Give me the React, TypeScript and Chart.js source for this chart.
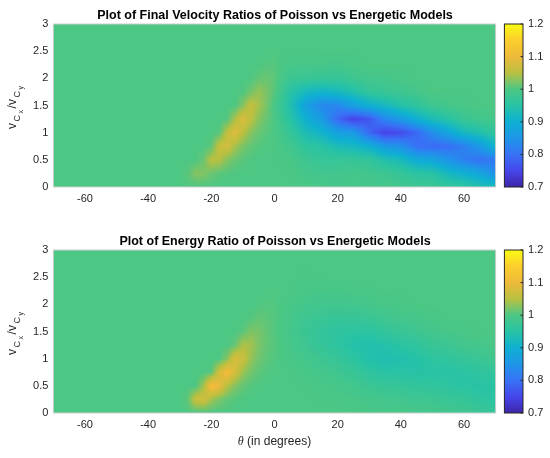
import React, { useEffect, useRef } from "react";
import { Chart, registerables } from "chart.js";

Chart.register(...registerables);

// ---------- data ----------
// theta sample nodes (degrees) and v-ratio sample nodes
const THETA_NODES = [
  -70, -65, -60, -55, -50, -45, -40, -35,
  -32.5, -30, -27.5, -25, -22.5, -20, -17.5, -15, -12.5, -10, -7.5, -5, -2.5, 0,
  5, 10, 15, 20, 25, 30, 35, 40, 45, 50, 55, 60, 65, 70,
];
const V_NODES = [0, 0.25, 0.5, 0.75, 1, 1.25, 1.5, 1.75, 2, 2.25, 2.5, 2.75, 3];

// rows = V_NODES, columns = THETA_NODES
const VELOCITY_RATIO = [
  [1, 1, 1, 1, 1, 1, 1, 1, /**/ 1, 1, 1.002, 1, 1, 1, 1, 1, 1, 1, 1, 1, 1, 1, /**/ 1, 0.997, 0.995, 0.99, 0.99, 0.99, 0.99, 0.985, 0.98, 0.98, 0.965, 0.96, 0.94, 0.93],
  [1, 1, 1, 1, 1, 1, 1, 1, /**/ 1, 1, 1.006, 1.026, 1.025, 1.014, 1.007, 1.003, 1.001, 1, 1, 1, 1, 1, /**/ 1, 0.99, 0.985, 0.985, 0.99, 0.985, 0.98, 0.97, 0.955, 0.95, 0.92, 0.9, 0.88, 0.84],
  [1, 1, 1, 1, 1, 1, 1, 1, /**/ 1, 1, 1, 1, 1.014, 1.053, 1.049, 1.026, 1.013, 1.006, 1.002, 1, 1, 1, /**/ 0.995, 0.98, 0.97, 0.97, 0.97, 0.965, 0.94, 0.925, 0.89, 0.88, 0.85, 0.82, 0.8, 0.81],
  [1, 1, 1, 1, 1, 1, 1, 1, /**/ 1, 1, 1, 1, 1, 1.008, 1.063, 1.072, 1.041, 1.021, 1.01, 1.004, 1.001, 1, /**/ 0.985, 0.96, 0.95, 0.93, 0.92, 0.9, 0.86, 0.845, 0.8, 0.79, 0.795, 0.82, 0.86, 0.91],
  [1, 1, 1, 1, 1, 1, 1, 1, /**/ 1, 1, 1, 1, 1, 1, 1.005, 1.057, 1.086, 1.053, 1.027, 1.013, 1.005, 1, /**/ 0.97, 0.93, 0.91, 0.87, 0.86, 0.79, 0.745, 0.755, 0.79, 0.84, 0.88, 0.92, 0.94, 0.965],
  [1, 1, 1, 1, 1, 1, 1, 1, /**/ 1, 1, 1, 1, 1, 1, 1, 1.003, 1.044, 1.082, 1.054, 1.027, 1.012, 1, /**/ 0.95, 0.9, 0.86, 0.79, 0.745, 0.77, 0.83, 0.86, 0.9, 0.93, 0.95, 0.975, 0.985, 0.99],
  [1, 1, 1, 1, 1, 1, 1, 1, /**/ 1, 1, 1, 1, 1, 1, 1, 1, 1, 1.026, 1.06, 1.041, 1.02, 0.995, /**/ 0.94, 0.87, 0.83, 0.83, 0.87, 0.9, 0.92, 0.945, 0.96, 0.98, 0.99, 0.995, 1, 1],
  [1, 1, 1, 1, 1, 1, 1, 1, /**/ 1, 1, 1, 1, 1, 1, 1, 1, 1, 1.001, 1.018, 1.034, 1.022, 1.005, /**/ 0.95, 0.92, 0.91, 0.92, 0.94, 0.965, 0.975, 0.98, 0.99, 1, 1, 1, 1, 1],
  [1, 1, 1, 1, 1, 1, 1, 1, /**/ 1, 1, 1, 1, 1, 1, 1, 1, 1, 1, 1.001, 1.01, 1.014, 1.008, /**/ 0.978, 0.975, 0.97, 0.97, 0.98, 0.99, 0.99, 0.995, 1, 1, 1, 1, 1, 1],
  [1, 1, 1, 1, 1, 1, 1, 1, /**/ 1, 1, 1, 1, 1, 1, 1, 1, 1, 1, 1, 1, 1.004, 1.004, /**/ 0.993, 0.993, 0.993, 0.99, 0.995, 1, 1, 1, 1, 1, 1, 1, 1, 1],
  [1, 1, 1, 1, 1, 1, 1, 1, /**/ 1, 1, 1, 1, 1, 1, 1, 1, 1, 1, 1, 1, 1, 1, /**/ 1, 1, 1, 1, 1, 1, 1, 1, 1, 1, 1, 1, 1, 1],
  [1, 1, 1, 1, 1, 1, 1, 1, /**/ 1, 1, 1, 1, 1, 1, 1, 1, 1, 1, 1, 1, 1, 1, /**/ 1, 1, 1, 1, 1, 1, 1, 1, 1, 1, 1, 1, 1, 1],
  [1, 1, 1, 1, 1, 1, 1, 1, /**/ 1, 1, 1, 1, 1, 1, 1, 1, 1, 1, 1, 1, 1, 1, /**/ 1, 1, 1, 1, 1, 1, 1, 1, 1, 1, 1, 1, 1, 1],
];

const ENERGY_RATIO = [
  [1, 1, 1, 1, 1, 1, 1, 1, /**/ 1, 1, 1.002, 1, 1, 1, 1, 1, 1, 1, 1, 1, 1, 1, /**/ 1, 1, 1, 1, 1, 0.997, 0.995, 0.995, 0.992, 0.991, 0.986, 0.983, 0.975, 0.97],
  [1, 1, 1, 1, 1, 1, 1, 1, /**/ 1, 1, 1.008, 1.065, 1.072, 1.04, 1.021, 1.01, 1.004, 1.001, 1, 1, 1, 1, /**/ 1, 1, 0.998, 0.997, 0.995, 0.99, 0.986, 0.985, 0.98, 0.979, 0.972, 0.97, 0.96, 0.955],
  [1, 1, 1, 1, 1, 1, 1, 1, /**/ 1, 1, 1, 1, 1.038, 1.118, 1.096, 1.05, 1.025, 1.011, 1.004, 1.001, 1, 1, /**/ 1, 0.998, 0.995, 0.992, 0.986, 0.977, 0.971, 0.969, 0.964, 0.963, 0.958, 0.953, 0.95, 0.951],
  [1, 1, 1, 1, 1, 1, 1, 1, /**/ 1, 1, 1, 1, 1, 1.006, 1.072, 1.114, 1.072, 1.036, 1.018, 1.008, 1.003, 1, /**/ 1, 0.994, 0.988, 0.982, 0.972, 0.96, 0.951, 0.95, 0.948, 0.95, 0.95, 0.953, 0.96, 0.966],
  [1, 1, 1, 1, 1, 1, 1, 1, /**/ 1, 1, 1, 1, 1, 1, 1, 1.026, 1.08, 1.065, 1.034, 1.017, 1.008, 1.003, /**/ 0.995, 0.988, 0.979, 0.97, 0.956, 0.942, 0.936, 0.94, 0.947, 0.957, 0.963, 0.969, 0.976, 0.985],
  [1, 1, 1, 1, 1, 1, 1, 1, /**/ 1, 1, 1, 1, 1, 1, 1, 1, 1.012, 1.045, 1.041, 1.022, 1.011, 1.005, /**/ 0.992, 0.98, 0.968, 0.957, 0.945, 0.94, 0.945, 0.953, 0.96, 0.973, 0.978, 0.986, 0.99, 0.995],
  [1, 1, 1, 1, 1, 1, 1, 1, /**/ 1, 1, 1, 1, 1, 1, 1, 1, 1, 1.006, 1.023, 1.02, 1.011, 1.003, /**/ 0.99, 0.975, 0.966, 0.959, 0.957, 0.955, 0.965, 0.973, 0.98, 0.988, 0.992, 0.996, 1, 1],
  [1, 1, 1, 1, 1, 1, 1, 1, /**/ 1, 1, 1, 1, 1, 1, 1, 1, 1, 1, 1.003, 1.01, 1.008, 1.004, /**/ 0.992, 0.98, 0.975, 0.97, 0.972, 0.975, 0.983, 0.988, 0.99, 0.996, 1, 1, 1, 1],
  [1, 1, 1, 1, 1, 1, 1, 1, /**/ 1, 1, 1, 1, 1, 1, 1, 1, 1, 1, 1, 1.001, 1.004, 1.003, /**/ 0.995, 0.988, 0.985, 0.984, 0.986, 0.99, 0.994, 0.997, 1, 1, 1, 1, 1, 1],
  [1, 1, 1, 1, 1, 1, 1, 1, /**/ 1, 1, 1, 1, 1, 1, 1, 1, 1, 1, 1, 1, 1, 1, /**/ 1, 0.994, 0.993, 0.994, 0.995, 0.998, 1, 1, 1, 1, 1, 1, 1, 1],
  [1, 1, 1, 1, 1, 1, 1, 1, /**/ 1, 1, 1, 1, 1, 1, 1, 1, 1, 1, 1, 1, 1, 1, /**/ 1, 0.998, 1, 1, 1, 1, 1, 1, 1, 1, 1, 1, 1, 1],
  [1, 1, 1, 1, 1, 1, 1, 1, /**/ 1, 1, 1, 1, 1, 1, 1, 1, 1, 1, 1, 1, 1, 1, /**/ 1, 1, 1, 1, 1, 1, 1, 1, 1, 1, 1, 1, 1, 1],
  [1, 1, 1, 1, 1, 1, 1, 1, /**/ 1, 1, 1, 1, 1, 1, 1, 1, 1, 1, 1, 1, 1, 1, /**/ 1, 1, 1, 1, 1, 1, 1, 1, 1, 1, 1, 1, 1, 1],
];

const X_TICKS = [-60, -40, -20, 0, 20, 40, 60];
const Y_TICKS = [0, 0.5, 1, 1.5, 2, 2.5, 3];
const CB_TICKS = [0.7, 0.8, 0.9, 1, 1.1, 1.2];
const TITLE_TOP = "Plot of Final Velocity Ratios of Poisson vs Energetic Models";
const TITLE_BOTTOM = "Plot of Energy Ratio of Poisson vs Energetic Models";

// ---------- styling ----------
const FONT = "'Liberation Sans', Arial, Helvetica, sans-serif";
const TEXT_COLOR = "#262626";
const C_MIN = 0.7;
const C_MAX = 1.2;
const CMAP_STOPS: number[][] = [
  [0.0, 62, 38, 168],
  [0.1, 70, 70, 234],
  [0.2, 56, 114, 246],
  [0.3, 30, 150, 232],
  [0.4, 15, 176, 210],
  [0.5, 40, 195, 165],
  [0.6, 76, 199, 132],
  [0.7, 185, 192, 65],
  [0.8, 238, 186, 58],
  [0.9, 252, 206, 45],
  [1.0, 249, 251, 20],
];

function cmap(val: number): [number, number, number] {
  let t = (val - C_MIN) / (C_MAX - C_MIN);
  t = Math.max(0, Math.min(1, t));
  for (let k = 0; k < CMAP_STOPS.length - 1; k++) {
    const a = CMAP_STOPS[k];
    const b = CMAP_STOPS[k + 1];
    if (t <= b[0]) {
      const f = (t - a[0]) / (b[0] - a[0]);
      return [a[1] + (b[1] - a[1]) * f, a[2] + (b[2] - a[2]) * f, a[3] + (b[3] - a[3]) * f];
    }
  }
  const l = CMAP_STOPS[CMAP_STOPS.length - 1];
  return [l[1], l[2], l[3]];
}

function findSeg(nodes: number[], val: number) {
  const n = nodes.length;
  if (val <= nodes[0]) return 0;
  for (let i = 0; i < n - 1; i++) if (val <= nodes[i + 1]) return i;
  return n - 2;
}

function sampleGrid(grid: number[][], th: number, v: number) {
  const i = findSeg(THETA_NODES, th);
  const j = findSeg(V_NODES, v);
  const tx = Math.max(0, Math.min(1, (th - THETA_NODES[i]) / (THETA_NODES[i + 1] - THETA_NODES[i])));
  const ty = Math.max(0, Math.min(1, (v - V_NODES[j]) / (V_NODES[j + 1] - V_NODES[j])));
  const a = grid[j][i];
  const b = grid[j][i + 1];
  const c = grid[j + 1][i];
  const d = grid[j + 1][i + 1];
  return a * (1 - tx) * (1 - ty) + b * tx * (1 - ty) + c * (1 - tx) * ty + d * tx * ty;
}

function heatmapPlugin(grid: number[][]) {
  return {
    id: "heatmap",
    beforeDatasetsDraw(chart: any) {
      const { ctx, chartArea: a, scales } = chart;
      const xs = scales.x;
      const ys = scales.y;
      const w = Math.max(1, Math.round(a.right - a.left));
      const h = Math.max(1, Math.round(a.bottom - a.top));
      const off = document.createElement("canvas");
      off.width = w;
      off.height = h;
      const octx = off.getContext("2d")!;
      const img = octx.createImageData(w, h);
      const ths: number[] = [];
      for (let i = 0; i < w; i++) ths.push(xs.getValueForPixel(a.left + ((i + 0.5) * (a.right - a.left)) / w));
      for (let j = 0; j < h; j++) {
        const v = ys.getValueForPixel(a.top + ((j + 0.5) * (a.bottom - a.top)) / h);
        for (let i = 0; i < w; i++) {
          const [r, g, b] = cmap(sampleGrid(grid, ths[i], v));
          const p = (j * w + i) * 4;
          img.data[p] = r;
          img.data[p + 1] = g;
          img.data[p + 2] = b;
          img.data[p + 3] = 255;
        }
      }
      octx.putImageData(img, 0, 0);
      ctx.save();
      ctx.imageSmoothingEnabled = true;
      ctx.drawImage(off, a.left, a.top, a.right - a.left, a.bottom - a.top);
      ctx.strokeStyle = "#cfcfcf";
      ctx.lineWidth = 1;
      ctx.strokeRect(a.left, a.top, a.right - a.left, a.bottom - a.top);
      ctx.restore();
    },
  };
}

function decorPlugin(showXLabel: boolean) {
  return {
    id: "decor",
    afterDraw(chart: any) {
      const { ctx, chartArea: a, scales } = chart;
      const cb = scales.cb;
      // colorbar
      const x0 = a.right + 8.8;
      const wcb = 18.6;
      const yTop = cb.getPixelForValue(C_MAX);
      const yBot = cb.getPixelForValue(C_MIN);
      ctx.save();
      const grad = ctx.createLinearGradient(0, yBot, 0, yTop);
      for (let k = 0; k <= 60; k++) {
        const val = C_MIN + ((C_MAX - C_MIN) * k) / 60;
        const [r, g, b] = cmap(val);
        grad.addColorStop(k / 60, `rgb(${Math.round(r)},${Math.round(g)},${Math.round(b)})`);
      }
      ctx.fillStyle = grad;
      ctx.fillRect(x0, yTop, wcb, yBot - yTop);
      ctx.strokeStyle = TEXT_COLOR;
      ctx.lineWidth = 1;
      ctx.strokeRect(x0, yTop, wcb, yBot - yTop);
      ctx.beginPath();
      for (const t of CB_TICKS) {
        const py = cb.getPixelForValue(t);
        ctx.moveTo(x0 + wcb - 2.5, py);
        ctx.lineTo(x0 + wcb, py);
      }
      ctx.stroke();

      // y label v_{C_x}/v_{C_y}
      const parts = [
        { t: "v", size: 12, dy: 0 },
        { t: "C", size: 9, dy: 4.5 },
        { t: "x", size: 7, dy: 7.5 },
        { t: "/v", size: 12, dy: 0 },
        { t: "C", size: 9, dy: 4.5 },
        { t: "y", size: 7, dy: 7.5 },
      ];
      const gap = 1.5;
      let total = 0;
      const widths: number[] = [];
      for (const p of parts) {
        ctx.font = `${p.size}px ${FONT}`;
        const wd = ctx.measureText(p.t).width;
        widths.push(wd);
        total += wd;
      }
      total += gap * (parts.length - 1);
      const cy = (a.top + a.bottom) / 2 + 2;
      ctx.fillStyle = TEXT_COLOR;
      ctx.textAlign = "left";
      ctx.textBaseline = "alphabetic";
      ctx.translate(15.5, cy);
      ctx.rotate(-Math.PI / 2);
      let x = -total / 2;
      parts.forEach((p, k) => {
        ctx.font = `${p.size}px ${FONT}`;
        ctx.fillText(p.t, x, p.dy);
        x += widths[k] + gap;
      });
      ctx.restore();

      if (showXLabel) {
        ctx.save();
        ctx.fillStyle = TEXT_COLOR;
        ctx.textBaseline = "middle";
        ctx.textAlign = "left";
        const f1 = `italic 12px 'Liberation Serif', 'DejaVu Serif', serif`;
        const f2 = `12px ${FONT}`;
        const s1 = "\u03B8";
        const s2 = " (in degrees)";
        ctx.font = f1;
        const w1 = ctx.measureText(s1).width;
        ctx.font = f2;
        const w2 = ctx.measureText(s2).width;
        const cx = (a.left + a.right) / 2;
        const yy = a.bottom + 28.7;
        const sx = cx - (w1 + w2) / 2;
        ctx.font = f1;
        ctx.fillText(s1, sx, yy);
        ctx.font = f2;
        ctx.fillText(s2, sx + w1, yy);
        ctx.restore();
      }
    },
  };
}

function fmt(v: number) {
  return String(Math.round(v * 10) / 10);
}

function makeChart(
  canvas: HTMLCanvasElement,
  grid: number[][],
  title: string,
  titlePadTop: number,
  xAxisHeight: number,
  showXLabel: boolean
) {
  const tickFont = { family: FONT, size: 11 };
  return new Chart(canvas, {
    type: "scatter",
    data: { datasets: [] },
    options: {
      responsive: false,
      animation: false,
      events: [],
      layout: { padding: 0 },
      plugins: {
        legend: { display: false },
        tooltip: { enabled: false },
        title: {
          display: true,
          text: title,
          color: "#000",
          font: { family: FONT, size: 12.5, weight: "bold", lineHeight: 1.2 },
          padding: { top: titlePadTop, bottom: 1 },
        },
      },
      scales: {
        x: {
          type: "linear",
          min: -70,
          max: 70,
          afterBuildTicks: (s: any) => {
            s.ticks = X_TICKS.map((value) => ({ value }));
          },
          afterFit: (s: any) => {
            s.height = xAxisHeight;
          },
          grid: { display: false, drawTicks: false },
          border: { display: false },
          ticks: {
            padding: 5,
            font: tickFont,
            color: TEXT_COLOR,
            maxRotation: 0,
            autoSkip: false,
            callback: (v: any) => String(v),
          },
        },
        y: {
          type: "linear",
          position: "left",
          min: 0,
          max: 3,
          afterBuildTicks: (s: any) => {
            s.ticks = Y_TICKS.map((value) => ({ value }));
          },
          afterFit: (s: any) => {
            s.width = 53.4;
          },
          grid: { display: false, drawTicks: false },
          border: { display: false },
          ticks: {
            padding: 5,
            font: tickFont,
            color: TEXT_COLOR,
            autoSkip: false,
            callback: (v: any) => fmt(Number(v)),
          },
        },
        cb: {
          type: "linear",
          position: "right",
          min: C_MIN,
          max: C_MAX,
          afterBuildTicks: (s: any) => {
            s.ticks = CB_TICKS.map((value) => ({ value }));
          },
          afterFit: (s: any) => {
            s.width = 54.4;
          },
          grid: { display: false, drawTicks: true, tickLength: 28.5 },
          border: { display: false },
          ticks: {
            padding: 4,
            font: tickFont,
            color: TEXT_COLOR,
            autoSkip: false,
            callback: (v: any) => fmt(Number(v)),
          },
        },
      },
    } as any,
    plugins: [heatmapPlugin(grid), decorPlugin(showXLabel)],
  });
}

export default function App() {
  const topRef = useRef<HTMLCanvasElement>(null);
  const botRef = useRef<HTMLCanvasElement>(null);

  useEffect(() => {
    const c1 = makeChart(topRef.current!, VELOCITY_RATIO, TITLE_TOP, 8, 42, false);
    const c2 = makeChart(botRef.current!, ENERGY_RATIO, TITLE_BOTTOM, 5, 45, true);
    return () => {
      c1.destroy();
      c2.destroy();
    };
  }, []);

  return (
    <div style={{ position: "absolute", left: 0, top: 0, width: 550, height: 458, background: "#fff" }}>
      <canvas ref={topRef} width={550} height={229} style={{ display: "block", width: 550, height: 229 }} />
      <canvas ref={botRef} width={550} height={229} style={{ display: "block", width: 550, height: 229 }} />
    </div>
  );
}
